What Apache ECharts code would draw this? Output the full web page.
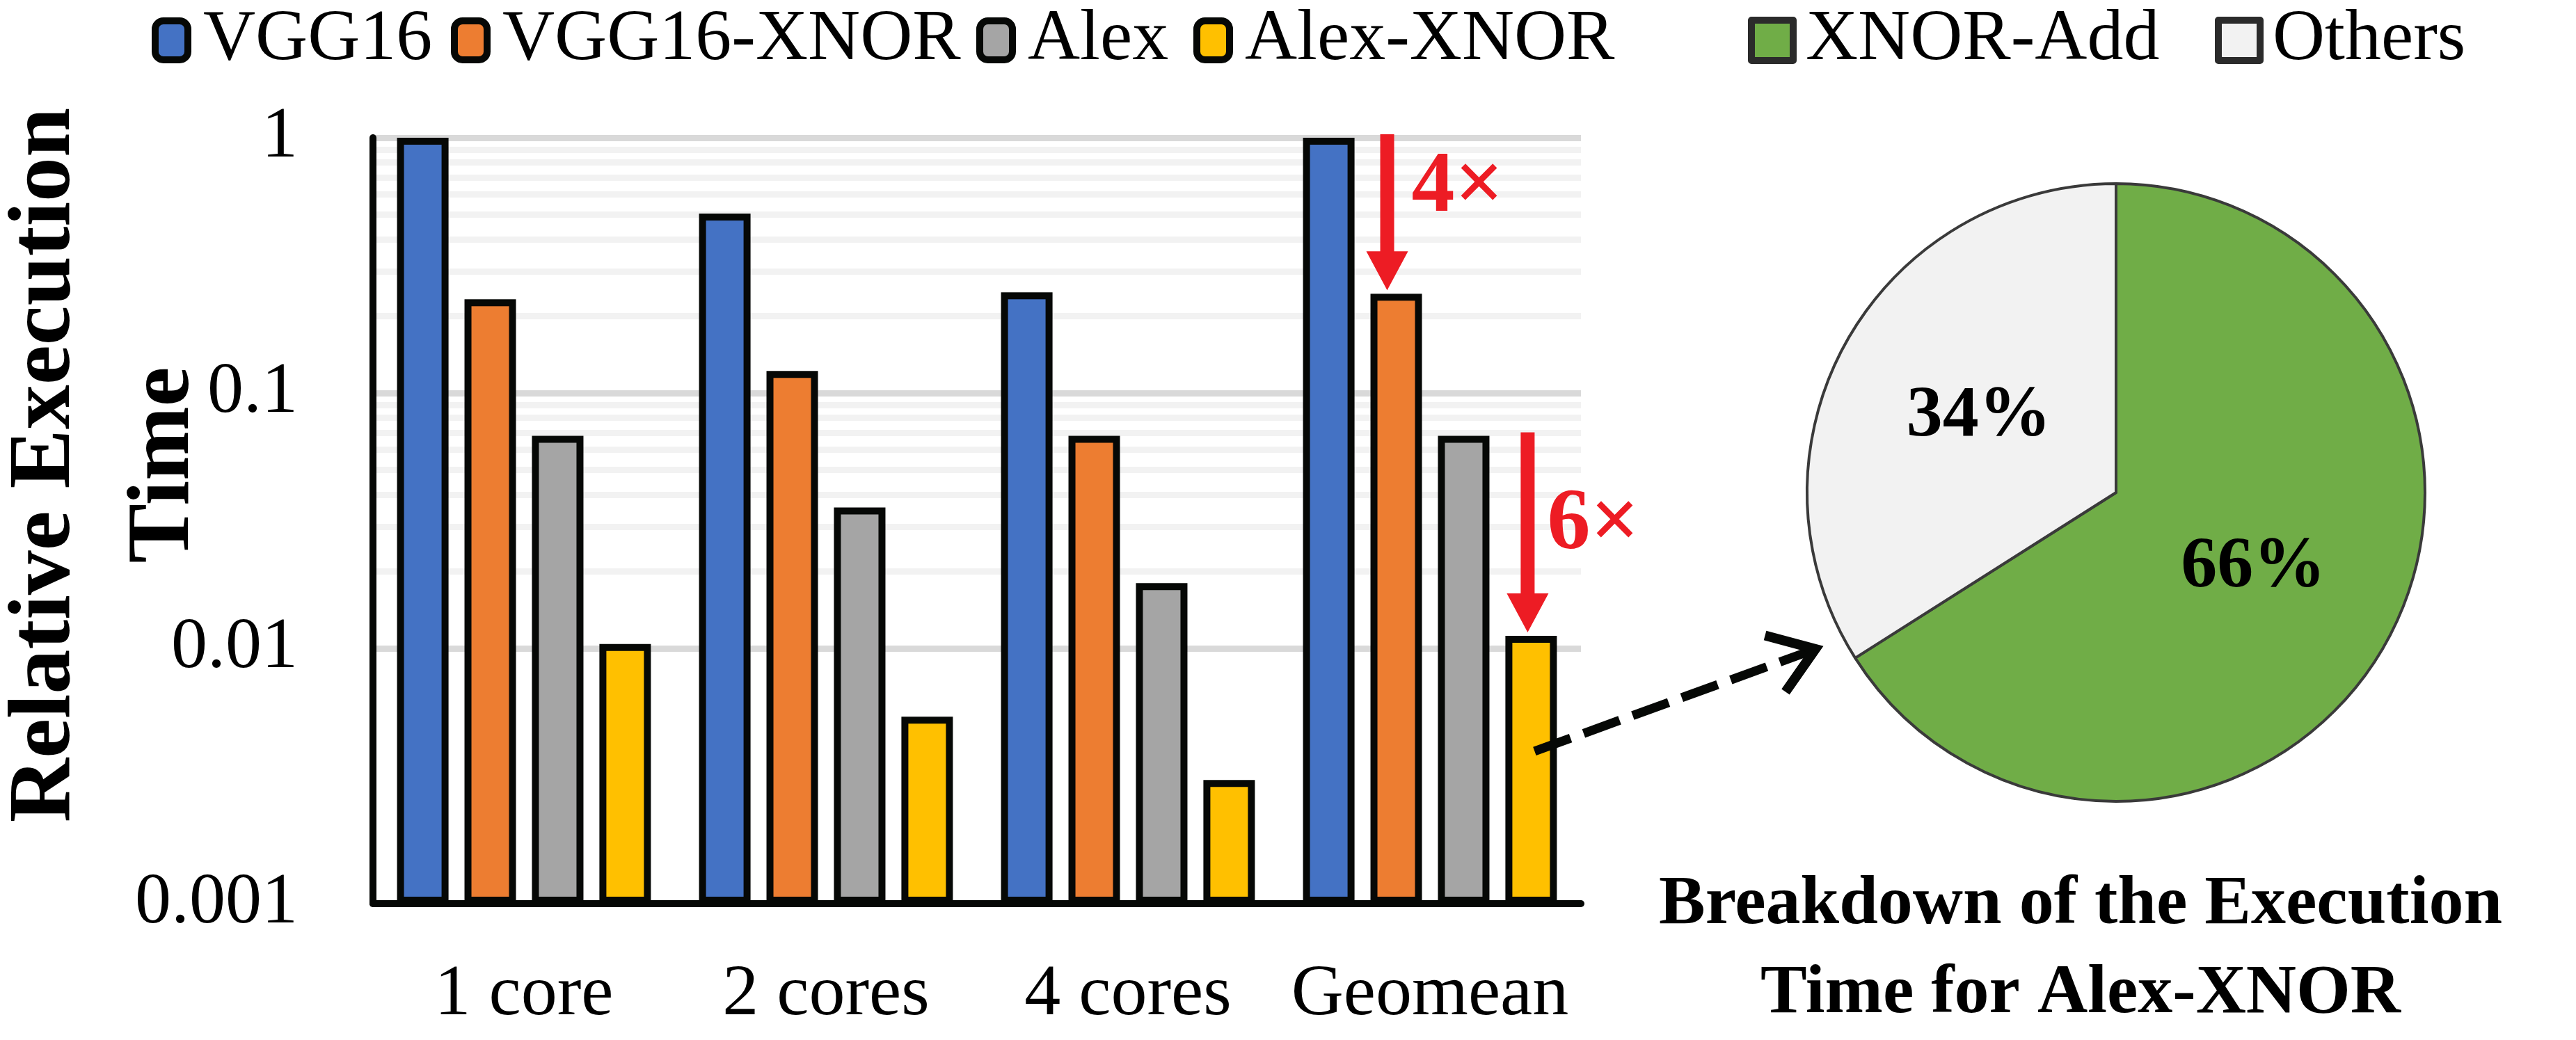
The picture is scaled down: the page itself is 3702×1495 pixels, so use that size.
<!DOCTYPE html>
<html>
<head>
<meta charset="utf-8">
<script src="https://cdn.jsdelivr.net/npm/echarts@6/dist/echarts.min.js"></script>
<style>
html, body { margin: 0; padding: 0; background: #fff; }
#main { width: 3702px; height: 1495px; }
</style>
</head>
<body>
<div id="main"></div>
<script>
// data
var categories = ['1 core', '2 cores', '4 cores', 'Geomean'];
var vgg16 = [1, 0.505, 0.248, 1];
var vgg16Xnor = [0.233, 0.122, 0.068, 0.245];
var alex = [0.068, 0.0356, 0.018, 0.068];
var alexXnor = [0.0104, 0.0054, 0.00305, 0.0112];
var yTickLabels = ['0.001', '0.01', '0.1', '1'];
var minorGrid = [0.002, 0.003, 0.004, 0.005, 0.006, 0.007, 0.008, 0.009,
                 0.02, 0.03, 0.04, 0.05, 0.06, 0.07, 0.08, 0.09,
                 0.2, 0.3, 0.4, 0.5, 0.6, 0.7, 0.8, 0.9];
var pieNames = ['XNOR-Add', 'Others'];
var pieValues = [66, 34];
var speedupLabels = ['4×', '6×'];
var pieTitle = 'Breakdown of the Execution\nTime for Alex-XNOR';

var FONT = "'Liberation Serif', 'Times New Roman', serif";
var RED = '#ED1C24';
var barColors = ['#4472C4', '#ED7D31', '#A5A5A5', '#FFC000'];
var barNames = ['VGG16', 'VGG16-XNOR', 'Alex', 'Alex-XNOR'];
var barData = [vgg16, vgg16Xnor, alex, alexXnor];

var pieCenter = [3041, 708];
var pieRadius = 444;

var chart = echarts.init(document.getElementById('main'));

function barSeries(i) {
  var s = {
    name: barNames[i],
    type: 'bar',
    data: barData[i],
    barWidth: 74,
    barGap: '31%',
    itemStyle: { color: barColors[i], borderColor: '#060806', borderWidth: 10 }
  };
  if (i === 0) {
    // light minor grid lines of the log axis
    s.markLine = {
      silent: true,
      z: 1,
      symbol: ['none', 'none'],
      label: { show: false },
      lineStyle: { color: '#f2f2f2', width: 9, type: 'solid' },
      data: minorGrid.map(function (v) { return { yAxis: v }; })
    };
  }
  return s;
}

function barLegend(i, left) {
  return {
    data: [barNames[i]],
    left: left,
    top: 6,
    padding: 0,
    selectedMode: false,
    itemWidth: 47,
    itemHeight: 56,
    itemStyle: { borderColor: '#060806', borderWidth: 10 },
    textStyle: { fontFamily: FONT, fontSize: 104, color: '#000', padding: [0, 0, 0, 17] }
  };
}

function pieLegend(i, left) {
  return {
    data: [pieNames[i]],
    left: left,
    top: 6,
    padding: 0,
    selectedMode: false,
    icon: 'rect',
    itemWidth: 60,
    itemHeight: 58,
    itemStyle: { borderColor: '#2b2b2b', borderWidth: 10 },
    textStyle: { fontFamily: FONT, fontSize: 104, color: '#000', padding: [0, 0, 0, 13] }
  };
}

var option = {
  animation: false,
  backgroundColor: '#fff',
  textStyle: { fontFamily: FONT },
  title: {
    text: pieTitle,
    left: 2985,
    top: 1232,
    textAlign: 'center',
    textStyle: { fontFamily: FONT, fontSize: 100, fontWeight: 'bold', lineHeight: 128, color: '#000' }
  },
  legend: [
    barLegend(0, 218),
    barLegend(1, 648),
    barLegend(2, 1403),
    barLegend(3, 1715),
    pieLegend(0, 2512),
    pieLegend(1, 3183)
  ],
  grid: { left: 536, top: 198, width: 1736, height: 1101, outerBoundsMode: 'none' },
  xAxis: {
    type: 'category',
    data: categories,
    z: 1.6,
    axisLine: { lineStyle: { color: '#060806', width: 10 } },
    axisTick: { show: false },
    axisLabel: { fontFamily: FONT, fontSize: 104, color: '#000', margin: 80, interval: 0 }
  },
  yAxis: {
    type: 'log',
    logBase: 10,
    min: 0.001,
    max: 1,
    startValue: 0.001,
    z: 1.5,
    name: 'Relative Execution\nTime',
    nameLocation: 'middle',
    nameRotate: 90,
    nameGap: 214,
    nameMoveOverlap: false,
    nameTextStyle: {
      fontFamily: FONT, fontSize: 128, fontWeight: 'bold', color: '#000',
      lineHeight: 171, padding: [0, 0, 0, 160]
    },
    axisLine: { show: true, lineStyle: { color: '#060806', width: 10 } },
    axisTick: { show: false },
    splitLine: { show: true, showMinLine: false, lineStyle: { color: '#d9d9d9', width: 9 } },
    axisLabel: {
      fontFamily: FONT, fontSize: 104, color: '#000', margin: 108,
      formatter: function (v) {
        var hit = yTickLabels.find(function (t) {
          return Math.abs(Math.log10(+t) - Math.log10(v)) < 1e-6;
        });
        return hit || '';
      }
    }
  },
  series: [
    barSeries(0), barSeries(1), barSeries(2), barSeries(3),
    {
      name: 'breakdown',
      type: 'pie',
      center: pieCenter,
      radius: pieRadius,
      startAngle: 90,
      clockwise: true,
      data: pieNames.map(function (n, i) {
        return {
          name: n,
          value: pieValues[i],
          itemStyle: { color: i === 0 ? '#70AD47' : '#F2F2F2' }
        };
      }),
      itemStyle: { borderColor: '#3a3a3a', borderWidth: 4 },
      label: {
        position: 'inside',
        formatter: '{d}%',
        fontFamily: FONT, fontSize: 104, fontWeight: 'bold', color: '#000'
      },
      labelLine: { show: false },
      emphasis: { disabled: true }
    }
  ]
};

chart.setOption(option);

// annotations placed from the laid out bars
function barLayout(seriesIndex, dataIndex) {
  var l = chart.getModel().getSeriesByIndex(seriesIndex).getData().getItemLayout(dataIndex);
  return { left: l.x, center: l.x + l.width / 2, top: l.y + l.height };
}

function downArrow(x, y0, y1) {
  var shaft = 10, head = 30, headLen = 56;
  return {
    type: 'polygon',
    z: 100,
    shape: {
      points: [
        [x - shaft, y0], [x + shaft, y0], [x + shaft, y1 - headLen], [x + head, y1 - headLen],
        [x, y1], [x - head, y1 - headLen], [x - shaft, y1 - headLen]
      ]
    },
    style: { fill: RED }
  };
}

var g = 3;
var vTop = barLayout(0, g), vxTop = barLayout(1, g), aTop = barLayout(2, g), axTop = barLayout(3, g);
var a1x = vxTop.left + 24, a1y0 = vTop.top - 5, a1y1 = vxTop.top - 5;
var a2x = axTop.center - 5, a2y0 = aTop.top - 5, a2y1 = axTop.top - 5;

var dashStart = [axTop.center + 5, axTop.top + 166];
var dashTip = [pieCenter[0] - 432, pieCenter[1] + 225];
var dx = dashTip[0] - dashStart[0], dy = dashTip[1] - dashStart[1];
var len = Math.sqrt(dx * dx + dy * dy);
var ux = dx / len, uy = dy / len;
var armLen = 75, armAng = 35 * Math.PI / 180;
function arm(sign) {
  var c = Math.cos(sign * armAng), s = Math.sin(sign * armAng);
  var bx = -ux, by = -uy;
  return [dashTip[0] + armLen * (bx * c - by * s), dashTip[1] + armLen * (bx * s + by * c)];
}

chart.setOption({
  graphic: [
    downArrow(a1x, a1y0, a1y1),
    downArrow(a2x, a2y0, a2y1),
    {
      type: 'text', z: 100, x: a1x + 35, y: a1y0 + 78,
      style: { text: speedupLabels[0], font: 'bold 124px ' + FONT, fill: RED, verticalAlign: 'middle' }
    },
    {
      type: 'text', z: 100, x: a2x + 28, y: a2y0 + 134,
      style: { text: speedupLabels[1], font: 'bold 124px ' + FONT, fill: RED, verticalAlign: 'middle' }
    },
    {
      type: 'line', z: 100,
      shape: { x1: dashStart[0], y1: dashStart[1], x2: dashTip[0] - ux * 8, y2: dashTip[1] - uy * 8 },
      style: { stroke: '#060806', lineWidth: 13, lineDash: [55, 20] }
    },
    {
      type: 'polyline', z: 100,
      shape: { points: [arm(1), dashTip, arm(-1)] },
      style: { stroke: '#060806', lineWidth: 14, fill: null, lineJoin: 'miter' }
    }
  ]
});
</script>
</body>
</html>
